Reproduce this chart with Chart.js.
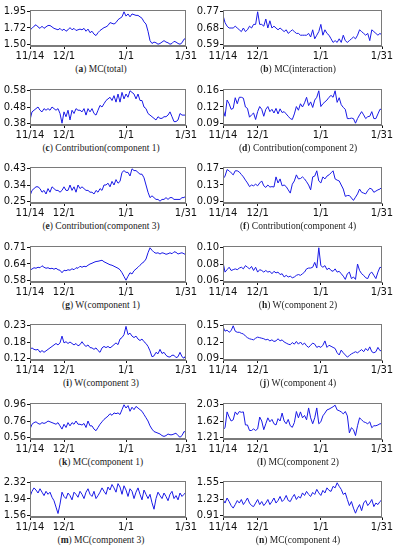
<!DOCTYPE html>
<html><head><meta charset="utf-8">
<script src="https://cdn.jsdelivr.net/npm/chart.js@4.4.1/dist/chart.umd.min.js"></script>
<style>
html,body{margin:0;padding:0;background:#fff;width:393px;height:550px;overflow:hidden;}
#wrap{position:relative;width:393px;height:550px;}
canvas{position:absolute;}
.cap{position:absolute;font-family:"Liberation Serif","DejaVu Serif",serif;font-size:9.5px;line-height:11px;color:#222;white-space:nowrap;transform:translateX(-50%);}
</style></head><body><div id="wrap"></div>
<script>
// x axis: days from 11/14 to 1/31
const xTickDays = [0, 17, 48, 78];
const xTickLabels = ['11/14', '12/1', '1/1', '1/31'];

const panelLetters = ['a','b','c','d','e','f','g','h','i','j','k','l','m','n'];
const panelTitles = ['MC(total)','MC(interaction)','Contribution(component 1)','Contribution(component 2)',
  'Contribution(component 3)','Contribution(component 4)','W(component 1)','W(component 2)',
  'W(component 3)','W(component 4)','MC(component 1)','MC(component 2)','MC(component 3)','MC(component 4)'];

const yTicksA = ['1.50','1.72','1.95'];
const yTicksB = ['0.59','0.68','0.77'];
const yTicksC = ['0.38','0.48','0.58'];
const yTicksD = ['0.09','0.12','0.16'];
const yTicksE = ['0.25','0.34','0.43'];
const yTicksF = ['0.09','0.13','0.17'];
const yTicksG = ['0.58','0.64','0.71'];
const yTicksH = ['0.06','0.08','0.10'];
const yTicksI = ['0.12','0.18','0.23'];
const yTicksJ = ['0.09','0.12','0.15'];
const yTicksK = ['0.56','0.76','0.96'];
const yTicksL = ['1.21','1.62','2.03'];
const yTicksM = ['1.56','1.94','2.32'];
const yTicksN = ['0.91','1.23','1.55'];

const mcTotal = [1.70,1.72,1.75,1.77,1.74,1.72,1.75,1.72,1.74,1.76,
 1.76,1.74,1.72,1.71,1.70,1.72,1.69,1.71,1.68,1.70,
 1.73,1.70,1.72,1.69,1.70,1.71,1.70,1.72,1.68,1.71,
 1.66,1.68,1.64,1.62,1.66,1.69,1.71,1.73,1.74,1.76,
 1.80,1.79,1.78,1.80,1.84,1.86,1.88,1.95,1.89,1.92,
 1.88,1.92,1.91,1.90,1.90,1.88,1.86,1.81,1.78,1.68,
 1.55,1.51,1.53,1.52,1.50,1.51,1.53,1.55,1.53,1.52,
 1.50,1.51,1.54,1.53,1.51,1.50,1.52,1.57,1.58];
const mcInteraction = [0.75,0.71,0.69,0.68,0.68,0.68,0.69,0.68,0.67,0.66,
 0.68,0.66,0.67,0.69,0.68,0.70,0.70,0.77,0.70,0.70,
 0.69,0.73,0.68,0.72,0.68,0.69,0.68,0.67,0.68,0.67,
 0.66,0.67,0.65,0.66,0.67,0.66,0.65,0.65,0.64,0.64,
 0.64,0.64,0.65,0.63,0.67,0.62,0.64,0.66,0.70,0.64,
 0.67,0.65,0.64,0.62,0.60,0.61,0.60,0.62,0.60,0.64,
 0.61,0.60,0.61,0.62,0.63,0.62,0.64,0.67,0.66,0.65,
 0.64,0.65,0.61,0.67,0.66,0.65,0.64,0.65,0.64];
const contrib1 = [0.40,0.45,0.46,0.47,0.48,0.46,0.45,0.47,0.46,0.47,
 0.46,0.48,0.47,0.46,0.47,0.44,0.38,0.45,0.42,0.46,
 0.40,0.46,0.44,0.47,0.46,0.46,0.45,0.47,0.43,0.47,
 0.45,0.47,0.44,0.43,0.46,0.49,0.48,0.50,0.52,0.53,
 0.54,0.52,0.55,0.51,0.56,0.51,0.57,0.53,0.56,0.54,
 0.58,0.57,0.56,0.53,0.56,0.52,0.52,0.48,0.47,0.44,
 0.43,0.42,0.41,0.40,0.42,0.41,0.41,0.42,0.42,0.43,
 0.45,0.42,0.39,0.39,0.40,0.44,0.43,0.43,0.43];
const contrib2 = [0.120,0.105,0.140,0.132,0.120,0.122,0.145,0.132,0.146,0.146,
 0.144,0.125,0.122,0.103,0.108,0.112,0.098,0.115,0.126,0.120,
 0.105,0.120,0.126,0.115,0.120,0.112,0.122,0.110,0.121,0.113,
 0.115,0.110,0.105,0.100,0.098,0.110,0.126,0.118,0.132,0.125,
 0.134,0.146,0.128,0.136,0.124,0.140,0.146,0.160,0.126,0.132,
 0.136,0.140,0.146,0.150,0.146,0.160,0.135,0.145,0.130,0.124,
 0.120,0.100,0.100,0.101,0.100,0.090,0.100,0.108,0.115,0.108,
 0.100,0.104,0.105,0.115,0.100,0.100,0.110,0.120,0.120];
const contrib3 = [0.28,0.31,0.32,0.33,0.33,0.32,0.30,0.31,0.29,0.32,
 0.30,0.33,0.32,0.31,0.31,0.30,0.31,0.33,0.31,0.31,
 0.34,0.31,0.33,0.30,0.34,0.32,0.33,0.32,0.31,0.31,
 0.30,0.30,0.29,0.31,0.30,0.32,0.31,0.34,0.34,0.35,
 0.33,0.36,0.34,0.37,0.35,0.36,0.41,0.42,0.41,0.41,
 0.39,0.43,0.42,0.42,0.41,0.40,0.40,0.38,0.34,0.30,
 0.27,0.28,0.27,0.26,0.26,0.25,0.26,0.26,0.27,0.26,
 0.27,0.27,0.26,0.26,0.26,0.26,0.27,0.27,0.28];
const contrib4 = [0.145,0.152,0.168,0.165,0.160,0.155,0.165,0.165,0.162,0.156,
 0.150,0.142,0.135,0.126,0.130,0.128,0.132,0.128,0.135,0.140,
 0.128,0.124,0.130,0.125,0.126,0.125,0.150,0.135,0.145,0.128,
 0.130,0.126,0.118,0.110,0.132,0.140,0.155,0.145,0.146,0.150,
 0.145,0.138,0.130,0.118,0.150,0.152,0.165,0.140,0.135,0.150,
 0.145,0.152,0.155,0.160,0.165,0.145,0.142,0.140,0.130,0.120,
 0.102,0.104,0.104,0.098,0.092,0.100,0.108,0.120,0.112,0.110,
 0.108,0.116,0.122,0.120,0.112,0.115,0.118,0.120,0.125];
const weight1 = [0.620,0.625,0.630,0.628,0.632,0.630,0.638,0.632,0.628,0.630,
 0.626,0.628,0.624,0.628,0.622,0.620,0.610,0.620,0.618,0.622,
 0.620,0.626,0.622,0.630,0.628,0.636,0.632,0.636,0.634,0.640,
 0.645,0.648,0.652,0.655,0.656,0.658,0.660,0.654,0.650,0.646,
 0.642,0.640,0.636,0.632,0.628,0.622,0.610,0.595,0.580,0.596,
 0.610,0.605,0.618,0.625,0.632,0.640,0.648,0.654,0.665,0.690,
 0.710,0.700,0.692,0.688,0.690,0.685,0.690,0.688,0.684,0.686,
 0.690,0.686,0.694,0.692,0.685,0.688,0.690,0.686,0.682];
const weight2 = [0.082,0.070,0.073,0.076,0.072,0.073,0.074,0.073,0.075,0.076,
 0.074,0.078,0.076,0.074,0.077,0.072,0.076,0.070,0.073,0.072,
 0.070,0.072,0.070,0.071,0.068,0.071,0.069,0.070,0.067,0.068,
 0.064,0.066,0.064,0.065,0.063,0.064,0.066,0.067,0.066,0.068,
 0.070,0.074,0.075,0.075,0.076,0.082,0.075,0.100,0.078,0.076,
 0.078,0.073,0.075,0.072,0.071,0.074,0.070,0.071,0.068,0.065,
 0.061,0.068,0.070,0.062,0.064,0.061,0.080,0.072,0.068,0.066,
 0.063,0.062,0.068,0.070,0.066,0.062,0.070,0.076,0.075];
const weight3 = [0.150,0.155,0.150,0.148,0.150,0.140,0.146,0.140,0.145,0.150,
 0.155,0.160,0.165,0.170,0.165,0.172,0.195,0.172,0.176,0.170,
 0.175,0.170,0.165,0.170,0.162,0.166,0.176,0.166,0.160,0.165,
 0.156,0.155,0.150,0.155,0.146,0.140,0.155,0.160,0.156,0.160,
 0.155,0.160,0.166,0.172,0.166,0.185,0.190,0.200,0.228,0.200,
 0.205,0.195,0.190,0.195,0.185,0.180,0.185,0.176,0.170,0.160,
 0.145,0.125,0.128,0.140,0.135,0.150,0.136,0.140,0.130,0.125,
 0.124,0.130,0.130,0.122,0.125,0.140,0.125,0.120,0.130];
const weight4 = [0.148,0.140,0.142,0.138,0.141,0.150,0.140,0.138,0.138,0.136,
 0.135,0.131,0.128,0.126,0.125,0.124,0.127,0.129,0.128,0.127,
 0.126,0.124,0.125,0.122,0.124,0.121,0.122,0.126,0.122,0.124,
 0.120,0.118,0.116,0.115,0.119,0.116,0.121,0.116,0.120,0.115,
 0.118,0.113,0.110,0.114,0.118,0.116,0.110,0.112,0.110,0.114,
 0.122,0.110,0.114,0.112,0.110,0.108,0.100,0.096,0.105,0.100,
 0.096,0.092,0.095,0.098,0.100,0.102,0.100,0.103,0.106,0.102,
 0.108,0.104,0.111,0.102,0.100,0.102,0.110,0.104,0.104];
const mcComp1 = [0.66,0.72,0.74,0.75,0.73,0.72,0.74,0.73,0.74,0.76,
 0.75,0.74,0.73,0.72,0.74,0.70,0.66,0.72,0.68,0.74,
 0.70,0.74,0.72,0.76,0.72,0.72,0.71,0.73,0.68,0.76,
 0.70,0.70,0.66,0.64,0.68,0.72,0.75,0.78,0.80,0.82,
 0.85,0.83,0.86,0.85,0.86,0.84,0.90,0.96,0.92,0.95,
 0.88,0.93,0.90,0.94,0.92,0.90,0.88,0.84,0.80,0.76,
 0.70,0.66,0.63,0.62,0.61,0.60,0.58,0.57,0.58,0.60,
 0.59,0.59,0.60,0.61,0.58,0.56,0.58,0.63,0.62];
const mcComp2 = [1.40,1.45,1.85,1.72,1.62,1.65,1.85,1.78,1.86,1.84,
 1.85,1.52,1.52,1.38,1.38,1.42,1.38,1.42,1.72,1.62,
 1.40,1.55,1.70,1.60,1.66,1.55,1.52,1.68,1.62,1.82,
 1.62,1.55,1.66,1.50,1.46,1.58,1.86,1.70,1.85,1.70,
 1.76,1.65,1.95,1.70,1.55,1.70,1.95,1.55,1.60,1.75,
 1.82,1.90,1.92,1.95,1.98,2.02,1.90,1.88,1.85,1.80,
 1.86,1.75,1.32,1.45,1.40,1.25,1.50,1.70,1.65,1.60,
 1.58,1.55,1.60,1.45,1.50,1.50,1.52,1.55,1.55];
const mcComp3 = [2.00,2.12,2.20,2.15,2.08,2.18,2.10,2.02,2.12,2.05,
 2.10,1.98,1.90,1.75,1.60,1.82,2.10,2.00,1.95,2.08,
 2.02,1.92,2.10,2.05,1.98,2.12,2.05,1.95,2.10,2.18,
 2.05,2.00,2.12,1.95,2.02,2.10,2.20,2.12,2.05,2.22,
 2.15,2.28,2.20,2.10,2.30,2.22,2.05,2.25,2.15,2.00,
 2.18,2.12,1.95,2.10,2.20,2.05,1.92,2.15,2.05,1.95,
 2.05,1.85,1.70,1.95,2.10,2.02,1.95,2.08,2.00,1.90,
 2.05,2.12,1.95,2.02,1.92,2.08,2.00,2.05,2.10];
const mcComp4 = [1.22,1.15,1.25,1.18,1.10,1.05,1.12,1.20,1.15,1.22,
 1.12,1.18,1.25,1.15,1.10,1.08,1.15,1.22,1.12,1.18,
 1.10,1.15,1.22,1.12,1.18,1.25,1.15,1.20,1.28,1.18,
 1.22,1.30,1.20,1.18,1.26,1.32,1.22,1.28,1.25,1.35,
 1.30,1.38,1.32,1.28,1.36,1.32,1.42,1.35,1.30,1.40,
 1.35,1.45,1.40,1.38,1.48,1.45,1.55,1.48,1.42,1.32,
 1.35,1.22,1.10,1.18,1.05,0.95,1.05,1.12,1.00,1.15,
 1.20,1.10,1.15,1.22,1.08,1.15,1.12,1.18,1.22];

const seriesList = [mcTotal, mcInteraction, contrib1, contrib2, contrib3, contrib4,
  weight1, weight2, weight3, weight4, mcComp1, mcComp2, mcComp3, mcComp4];
const yTickList = [yTicksA, yTicksB, yTicksC, yTicksD, yTicksE, yTicksF, yTicksG,
  yTicksH, yTicksI, yTicksJ, yTicksK, yTicksL, yTicksM, yTicksN];

// layout
const LINE = '#1a1ae6', FRAME = '#7a7a7a', TICKC = '#111';
const colLeft = [30, 223], boxW = [156, 159], capCenter = [101, 298];
const rowTop0 = 9, rowStep = 78.5, boxH = 37;
const wrap = document.getElementById('wrap');

const framePlugin = {
  id: 'frame',
  afterDatasetsDraw(chart) {
    const {ctx, chartArea: a} = chart;
    ctx.save();
    ctx.strokeStyle = FRAME; ctx.lineWidth = 1;
    ctx.strokeRect(a.left + 0.5, a.top + 0.5, a.right - a.left - 1, a.bottom - a.top - 1);
    ctx.restore();
  }
};

function makePanel(idx) {
  const series = seriesList[idx], yLabels = yTickList[idx];
  const col = idx % 2, row = Math.floor(idx / 2);
  const L = colLeft[col], T = Math.round(rowTop0 + rowStep * row), W = boxW[col], H = boxH;
  const padL = 30, padT = 6, padR = 14, padB = 16;
  const c = document.createElement('canvas');
  c.width = padL + W + padR; c.height = padT + H + padB;
  c.style.left = (L - padL) + 'px'; c.style.top = (T - padT) + 'px';
  c.style.width = c.width + 'px'; c.style.height = c.height + 'px';
  wrap.appendChild(c);
  const lo = parseFloat(yLabels[0]), hi = parseFloat(yLabels[2]);
  const m = (hi - lo) * 0.055;
  const font = {family: 'DejaVu Sans', size: 10};
  new Chart(c, {
    type: 'line',
    data: {datasets: [{data: series.map((v, i) => ({x: i, y: v})), borderColor: LINE,
      borderWidth: 1, pointRadius: 0, tension: 0, fill: false}]},
    options: {
      responsive: false, animation: false, devicePixelRatio: 1,
      layout: {padding: {left: 0, top: padT, right: padR, bottom: 0}},
      plugins: {legend: {display: false}, tooltip: {enabled: false}},
      scales: {
        x: {type: 'linear', min: 0, max: series.length - 1,
          afterBuildTicks: (ax) => { ax.ticks = xTickDays.map(v => ({value: v})); },
          afterFit: (ax) => { ax.height = padB; },
          ticks: {autoSkip: false, maxRotation: 0, minRotation: 0, padding: 1, font, color: TICKC,
            callback: (v, i) => xTickLabels[i]},
          grid: {drawOnChartArea: false, drawTicks: true, tickLength: 3, color: TICKC},
          border: {display: true, color: FRAME}},
        y: {type: 'linear', min: lo - m, max: hi + m,
          afterBuildTicks: (ax) => { ax.ticks = [lo, (lo + hi) / 2, hi].map(v => ({value: v})); },
          afterFit: (ax) => { ax.width = padL; },
          ticks: {padding: 1, font, color: TICKC, callback: (v, i) => yLabels[i]},
          grid: {drawOnChartArea: false, drawTicks: true, tickLength: 3, color: TICKC},
          border: {display: true, color: FRAME}}
      }
    },
    plugins: [framePlugin]
  });
  const cap = document.createElement('div');
  cap.className = 'cap';
  cap.style.left = capCenter[col] + 'px';
  cap.style.top = (T + H + 18) + 'px';
  cap.innerHTML = '(<b>' + panelLetters[idx] + '</b>) ' + panelTitles[idx];
  wrap.appendChild(cap);
}

for (let i = 0; i < seriesList.length; i++) makePanel(i);
</script>
</body></html>
